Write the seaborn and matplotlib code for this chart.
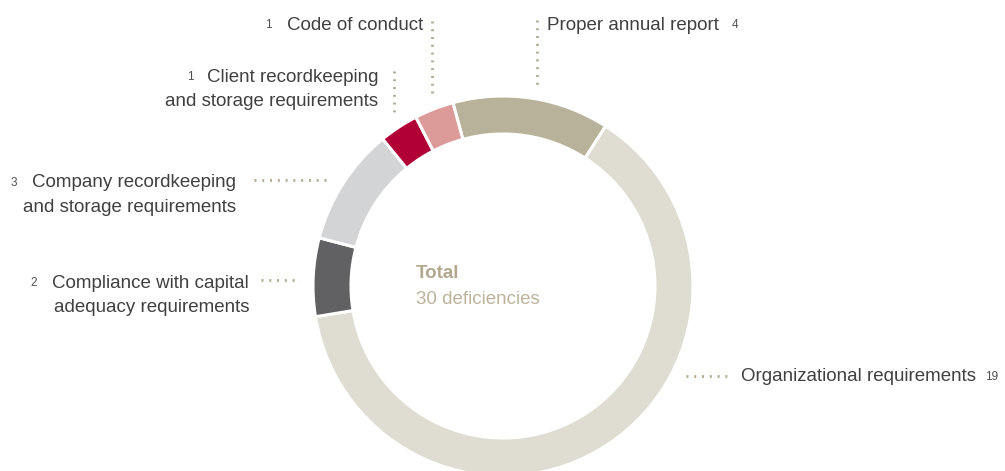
import matplotlib
matplotlib.use("Agg")
import matplotlib.pyplot as plt
import seaborn as sns

# data, in clockwise order starting from the top
categories = ["Proper annual report", "Organizational requirements",
              "Compliance with capital\nadequacy requirements",
              "Company recordkeeping\nand storage requirements",
              "Client recordkeeping\nand storage requirements",
              "Code of conduct"]
counts = [4, 19, 2, 3, 1, 1]
colors = ["#b9b29a", "#dfdcd1", "#616163", "#d3d4d6", "#b10035", "#dc9a98"]
total_label = "Total"
total_text = "30 deficiencies"

sns.set_theme(style="white")
plt.rcParams["font.family"] = ["Liberation Sans", "DejaVu Sans"]

W, H = 1005, 471
fig = plt.figure(figsize=(W / 100, H / 100), dpi=100)
ax = fig.add_axes([0, 0, 1, 1])


def Y(y):
    return H - y


cx, cy, R = 503, 286, 190
ax.pie(counts, colors=sns.color_palette(colors), center=(cx, Y(cy)), radius=R,
       startangle=105.3, counterclock=False,
       wedgeprops=dict(width=38, edgecolor="white", linewidth=2.2))
ax.set_xlim(0, W)
ax.set_ylim(0, H)
ax.set_aspect("equal")
ax.axis("off")

ax.text(416, Y(274), total_label, fontsize=13.5, fontweight="bold",
        color="#b2a88e", va="center", ha="left")
ax.text(416, Y(299), total_text, fontsize=13.5, color="#bdb39b",
        va="center", ha="left")

txt = "#404040"
num = "#505050"
lead = "#b3a98e"
ls = (0, (0.7, 2.1))
lw = 2.0
fs = 13.5
nfs = 8.5
gap = 24.5


def leader(xs, ys):
    ax.plot(xs, [Y(v) for v in ys], color=lead, lw=lw, linestyle=ls,
            dash_capstyle="butt")


def label(x, y, text, ha):
    for i, line in enumerate(text.split("\n")):
        ax.text(x, Y(y + 1.5 + i * gap), line, fontsize=fs, color=txt,
                ha=ha, va="center")


def number(x, y, n):
    ax.text(x, Y(y + 1.5), str(n), fontsize=nfs, color=num, ha="center", va="center")


# Code of conduct
label(423, 24, categories[5], "right")
number(268, 24, counts[5])
leader([432, 432], [21, 98])

# Client recordkeeping
label(378, 76, categories[4], "right")
number(190, 76, counts[4])
leader([394, 394], [71, 114])

# Proper annual report
label(547, 24, categories[0], "left")
number(735, 24, counts[0])
leader([537, 537], [20, 87])

# Company recordkeeping
label(236, 181, categories[3], "right")
number(14, 181, counts[3])
leader([254, 328], [180, 180])

# Compliance with capital adequacy
label(249, 282, categories[2], "right")
number(34, 282, counts[2])
leader([261, 300], [280, 280])

# Organizational requirements
label(741, 375, categories[1], "left")
number(992, 375, counts[1])
leader([686, 732], [376, 376])

fig.savefig("out.png", dpi=100, facecolor="white")
